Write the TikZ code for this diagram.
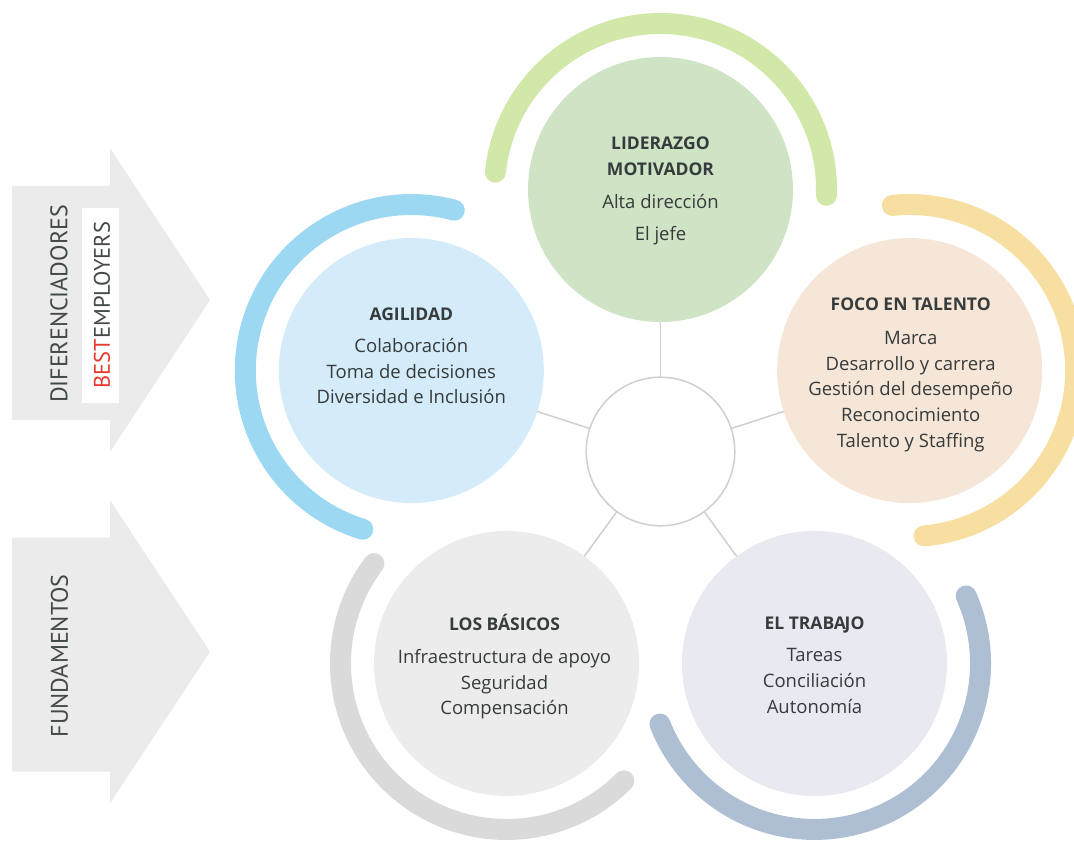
\documentclass[tikz,border=0pt]{standalone}
\usepackage{fontspec}
\setmainfont{Open Sans}
\newfontfamily\arrowfont{PT Sans}
\usetikzlibrary{calc}
\definecolor{txt}{HTML}{363B3B}
\definecolor{arrowtxt}{HTML}{434848}
\definecolor{bestred}{HTML}{E63B2E}
\definecolor{arrowfill}{HTML}{EBEBEB}
\definecolor{spokegray}{HTML}{CFCFCF}
\definecolor{topfill}{HTML}{CFE3C5}
\definecolor{topring}{HTML}{D2E8A8}
\definecolor{leftfill}{HTML}{D4EBFA}
\definecolor{leftring}{HTML}{9DD8F2}
\definecolor{rightfill}{HTML}{F6E6D7}
\definecolor{rightring}{HTML}{F6DFA1}
\definecolor{blfill}{HTML}{ECECEC}
\definecolor{blring}{HTML}{DADADA}
\definecolor{brfill}{HTML}{E8E9F1}
\definecolor{brring}{HTML}{AFBFD3}
\begin{document}
\begin{tikzpicture}[x=1pt,y=1pt,
  bubble/.style={circle, minimum size=265pt, inner sep=0pt, outer sep=0pt},
  ring/.style={line width=21pt, line cap=round},
  spoke/.style={draw=spokegray, line width=1.5pt},
  head/.style={anchor=base, font=\fontsize{17.5}{20}\selectfont\bfseries, text=txt, inner sep=0pt},
  item/.style={anchor=base, font=\fontsize{18.5}{22}\selectfont, text=txt, inner sep=0pt},
  arrowlabel/.style={rotate=90, text=arrowtxt, inner sep=0pt}]
\useasboundingbox (0,0) rectangle (1074,843);

% left arrows
\fill[arrowfill] (12,657) -- (110,657) -- (110,695) -- (210,543) -- (110,391) -- (110,423) -- (12,423) -- cycle;
\fill[arrowfill] (12,305.3) -- (110,305.3) -- (110,343) -- (210,191.3) -- (110,39.7) -- (110,71.3) -- (12,71.3) -- cycle;
\node[arrowlabel, font=\arrowfont\fontsize{24}{28}\selectfont] (dif) at (59,539) {DIFERENCIADORES};
\node[fill=white, minimum width=37.6pt, minimum height=194.4pt, inner sep=0pt] (bebox) at (100.5,537.5) {};
\node[arrowlabel, font=\arrowfont\fontsize{22.5}{26}\selectfont] (best) at (102,538) {\textcolor{bestred}{BEST}EMPLOYERS};
\node[arrowlabel, font=\arrowfont\fontsize{24}{28}\selectfont] (fund) at (59.5,187) {FUNDAMENTOS};

% circles
\node[circle, minimum size=148.6pt, inner sep=0pt, draw=spokegray, line width=1.5pt, fill=white] (c) at (660.5,391.5) {};
\node[bubble, fill=topfill] (top) at ($(c)+(90:262pt)$) {};
\node[bubble, fill=leftfill] (left) at ($(c)+(162:262pt)$) {};
\node[bubble, fill=rightfill] (right) at ($(c)+(18:262pt)$) {};
\node[bubble, fill=blfill] (bl) at ($(c)+(234:262pt)$) {};
\node[bubble, fill=brfill] (br) at ($(c)+(306:262pt)$) {};

% spokes
\draw[spoke] (c) -- (top);
\draw[spoke] (c) -- (left);
\draw[spoke] (c) -- (right);
\draw[spoke] (c) -- (bl);
\draw[spoke] (c) -- (br);

% rings
\draw[ring, draw=topring] ($(top)+(174:166pt)$) arc[start angle=174, end angle=-2, radius=166pt];
\draw[ring, draw=leftring] ($(left)+(75:166pt)$) arc[start angle=75, end angle=253, radius=166pt];
\draw[ring, draw=rightring] ($(right)+(96:166pt)$) arc[start angle=96, end angle=-85, radius=166pt];
\draw[ring, draw=blring] ($(bl)+(143:166pt)$) arc[start angle=143, end angle=315, radius=166pt];
\draw[ring, draw=brring] ($(br)+(24:166pt)$) arc[start angle=24, end angle=-158.6, radius=166pt];

% texts: top
\node[head] (t1) at ($(top)+(0,40.2)$) {LIDERAZGO};
\node[head] (t2) at ($(top)+(0,13.8)$) {MOTIVADOR};
\node[item] (t3) at ($(top)+(0,-18.8)$) {Alta dirección};
\node[item] (t4) at ($(top)+(0,-51.5)$) {El jefe};
% left
\node[head] (l1) at ($(left)+(0,50.5)$) {AGILIDAD};
\node[item] (l2) at ($(left)+(0,18.2)$) {Colaboración};
\node[item] (l3) at ($(left)+(0,-7.8)$) {Toma de decisiones};
\node[item] (l4) at ($(left)+(0,-32.8)$) {Diversidad e Inclusión};
% right
\node[head] (r1) at ($(right)+(1,59.8)$) {FOCO EN TALENTO};
\node[item] (r2) at ($(right)+(1,26.5)$) {Marca};
\node[item] (r3) at ($(right)+(1,0.5)$) {Desarrollo y carrera};
\node[item] (r4) at ($(right)+(1,-24.5)$) {Gestión del desempeño};
\node[item] (r5) at ($(right)+(1,-51.2)$) {Reconocimiento};
\node[item] (r6) at ($(right)+(1,-77.2)$) {Talento y Staffing};
% bottom left
\node[head] (b1) at ($(bl)+(-2,32.8)$) {LOS BÁSICOS};
\node[item] (b2) at ($(bl)+(-2,-0.5)$) {Infraestructura de apoyo};
\node[item] (b3) at ($(bl)+(-2,-25.8)$) {Seguridad};
\node[item] (b4) at ($(bl)+(-2,-51.5)$) {Compensación};
% bottom right
\node[head] (w1) at ($(br)+(0,34.2)$) {EL TRABA\kern-1.3pt JO};
\node[item] (w2) at ($(br)+(0,1.8)$) {Tareas};
\node[item] (w3) at ($(br)+(0,-24.2)$) {Conciliación};
\node[item] (w4) at ($(br)+(0,-49.8)$) {Autonomía};
\end{tikzpicture}
\end{document}
